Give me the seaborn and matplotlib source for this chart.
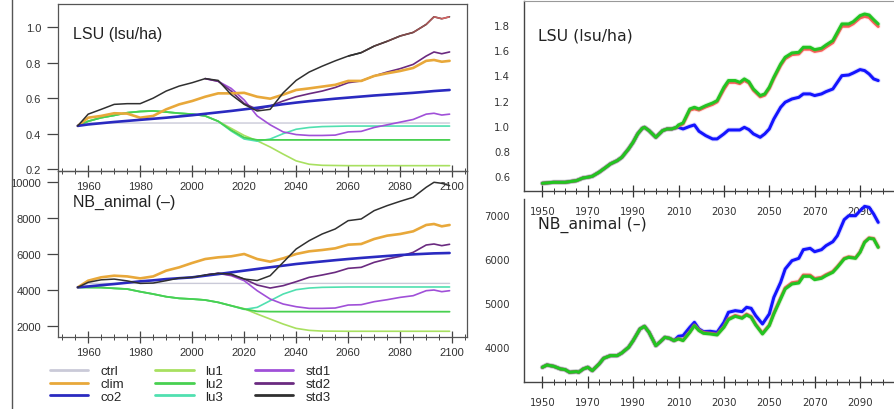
import matplotlib
matplotlib.use("Agg")
import numpy as np
import pandas as pd
import seaborn as sns
import matplotlib.pyplot as plt
import matplotlib.patheffects as pe
from matplotlib.lines import Line2D
from matplotlib.collections import LineCollection
from matplotlib.ticker import MultipleLocator, FormatStrFormatter

sns.set_theme(style="white")
plt.rcParams["font.family"] = ["Liberation Sans", "DejaVu Sans"]

# ---------------- data: left panels ----------------
yrs_a = [1956, 1960, 1965, 1970, 1975, 1980, 1985, 1990, 1995, 2000, 2005, 2010, 2015, 2020, 2025,
         2030, 2035, 2040, 2045, 2050, 2055, 2060, 2065, 2070, 2075, 2080, 2085, 2090, 2093, 2096, 2099]
ctrl_years = [1956, 1960, 2099]
ctrl_lsu = [0.444, 0.46, 0.46]
ctrl_nb = [4140, 4360, 4360]

clim_lsu = [0.444, 0.49, 0.50, 0.515, 0.513, 0.49, 0.50, 0.537, 0.565, 0.584, 0.608, 0.627, 0.627, 0.63, 0.608,
            0.597, 0.62, 0.646, 0.655, 0.665, 0.675, 0.697, 0.697, 0.725, 0.74, 0.753, 0.77, 0.81, 0.815, 0.805, 0.81]
co2_lsu = [0.444, 0.452, 0.459, 0.466, 0.472, 0.478, 0.484, 0.49, 0.497, 0.504, 0.512, 0.52, 0.528, 0.537, 0.546,
           0.556, 0.566, 0.575, 0.583, 0.59, 0.597, 0.603, 0.609, 0.615, 0.62, 0.625, 0.63, 0.636, 0.64, 0.643, 0.646]
std3_lsu = [0.444, 0.51, 0.537, 0.565, 0.569, 0.569, 0.60, 0.64, 0.668, 0.687, 0.71, 0.70, 0.62, 0.565, 0.528,
            0.537, 0.63, 0.70, 0.747, 0.78, 0.81, 0.837, 0.856, 0.893, 0.92, 0.95, 0.97, 1.015, 1.058, 1.047, 1.058]

std_years = [2005, 2010, 2015, 2020, 2025, 2030, 2035, 2040, 2045, 2050, 2055, 2060, 2065, 2070, 2075,
             2080, 2085, 2090, 2093, 2096, 2099]
std2_lsu = [0.71, 0.695, 0.64, 0.57, 0.537, 0.556, 0.584, 0.608, 0.625, 0.64, 0.66, 0.687, 0.697, 0.725, 0.747,
            0.766, 0.79, 0.837, 0.86, 0.85, 0.86]
std1_lsu = [0.71, 0.695, 0.655, 0.59, 0.50, 0.45, 0.41, 0.395, 0.39, 0.39, 0.392, 0.41, 0.413, 0.435, 0.45,
            0.465, 0.48, 0.51, 0.515, 0.505, 0.51]

lu_early_years = [1956, 1960, 1965, 1970, 1975, 1980, 1985, 1990, 1995, 2000, 2005, 2010]
lu_early_lsu = [0.444, 0.47, 0.49, 0.503, 0.518, 0.525, 0.528, 0.522, 0.515, 0.51, 0.50, 0.47]
lu1_tail_years = [2015, 2020, 2025, 2030, 2035, 2040, 2045, 2050, 2060, 2099]
lu1_tail_lsu = [0.43, 0.39, 0.36, 0.325, 0.285, 0.247, 0.228, 0.222, 0.22, 0.22]
lu2_tail_years = [2015, 2020, 2025, 2030, 2099]
lu2_tail_lsu = [0.42, 0.378, 0.365, 0.365, 0.365]
lu3_tail_years = [2015, 2020, 2025, 2030, 2035, 2040, 2045, 2050, 2060, 2099]
lu3_tail_lsu = [0.415, 0.37, 0.358, 0.37, 0.40, 0.425, 0.435, 0.44, 0.443, 0.443]

clim_nb = [4140, 4512, 4700, 4790, 4750, 4640, 4750, 5070, 5256, 5500, 5720, 5814, 5870, 6000, 5720,
           5572, 5758, 6000, 6150, 6223, 6316, 6520, 6558, 6837, 7023, 7116, 7265, 7619, 7674, 7544, 7619]
co2_nb = [4140, 4190, 4260, 4325, 4400, 4474, 4530, 4600, 4650, 4698, 4790, 4880, 4975, 5070, 5165,
          5260, 5350, 5442, 5515, 5585, 5655, 5720, 5780, 5835, 5890, 5944, 5980, 6015, 6035, 6045, 6056]
std3_nb = [4140, 4420, 4560, 4600, 4500, 4360, 4380, 4512, 4660, 4698, 4828, 4920, 4884, 4605, 4520,
           4790, 5535, 6279, 6744, 7116, 7395, 7860, 7953, 8419, 8698, 8940, 9163, 9721, 10000, 9944, 9814]
std2_nb = [4828, 4920, 4828, 4605, 4270, 4102, 4233, 4456, 4698, 4828, 4977, 5200, 5256, 5535, 5720,
           5870, 6093, 6502, 6558, 6465, 6540]
std1_nb = [4828, 4920, 4790, 4512, 3953, 3488, 3209, 3060, 2967, 2967, 2986, 3153, 3172, 3340, 3451,
           3581, 3674, 3953, 3991, 3898, 3953]
lu_early_nb = [4140, 4135, 4130, 4084, 4046, 3898, 3767, 3619, 3526, 3488, 3433, 3302]
lu1_tail_nb = [3116, 2950, 2651, 2372, 2093, 1851, 1740, 1700, 1690, 1690]
lu2_tail_nb = [3116, 2930, 2800, 2785, 2781]
lu3_tail_nb = [3116, 2910, 3023, 3395, 3767, 4009, 4102, 4140, 4160, 4160]

# ---------------- data: right panels ----------------
rt_early_years = [1950, 1955, 1960, 1965, 1968, 1970, 1972, 1975, 1978, 1980, 1983, 1985, 1988, 1990, 1992,
                  1994, 1995, 1997, 2000, 2003, 2005, 2007]
rt_early_lsu = [0.544, 0.552, 0.552, 0.565, 0.587, 0.592, 0.60, 0.632, 0.671, 0.698, 0.724, 0.75, 0.817, 0.87,
                0.936, 0.98, 0.988, 0.962, 0.909, 0.962, 0.975, 0.975]
rt_tail_years = [2009, 2010, 2012, 2015, 2017, 2019, 2022, 2025, 2027, 2030, 2032, 2035, 2037, 2039, 2041, 2043,
                 2046, 2048, 2050, 2052, 2055, 2057, 2060, 2063, 2065, 2068, 2070, 2073, 2075, 2078, 2080, 2082,
                 2085, 2087, 2090, 2092, 2094, 2096, 2098]
green_lsu = [0.988, 1.007, 1.023, 1.134, 1.147, 1.134, 1.16, 1.181, 1.2, 1.306, 1.359, 1.359, 1.345, 1.372, 1.35,
             1.292, 1.24, 1.253, 1.306, 1.385, 1.49, 1.544, 1.578, 1.583, 1.623, 1.623, 1.604, 1.615, 1.641,
             1.676, 1.742, 1.808, 1.808, 1.826, 1.874, 1.887, 1.879, 1.842, 1.808]
red_lsu = [0.985, 1.0, 1.015, 1.125, 1.135, 1.125, 1.15, 1.17, 1.19, 1.29, 1.345, 1.345, 1.335, 1.36, 1.34,
           1.282, 1.23, 1.243, 1.296, 1.375, 1.478, 1.532, 1.565, 1.57, 1.608, 1.608, 1.59, 1.6, 1.625,
           1.66, 1.725, 1.79, 1.79, 1.81, 1.856, 1.868, 1.86, 1.822, 1.788]
blue_lsu = [0.985, 0.988, 0.975, 0.996, 1.007, 0.957, 0.922, 0.896, 0.896, 0.936, 0.967, 0.967, 0.967, 0.988,
            0.97, 0.936, 0.909, 0.936, 0.975, 1.054, 1.147, 1.187, 1.213, 1.226, 1.253, 1.253, 1.24, 1.253,
            1.271, 1.292, 1.345, 1.398, 1.403, 1.419, 1.446, 1.438, 1.411, 1.372, 1.359]

rb_early_years = [1950, 1952, 1955, 1958, 1960, 1962, 1965, 1966, 1968, 1970, 1972, 1975, 1977, 1980, 1983,
                  1985, 1988, 1990, 1993, 1995, 1997, 2000, 2002, 2004, 2006, 2008]
rb_early_nb = [3548, 3600, 3570, 3510, 3495, 3435, 3450, 3435, 3510, 3548, 3472, 3623, 3751, 3812, 3812,
               3872, 4000, 4151, 4415, 4475, 4339, 4038, 4128, 4226, 4204, 4151]
rb_tail_years = [2010, 2012, 2015, 2017, 2019, 2021, 2024, 2027, 2030, 2032, 2035, 2038, 2040, 2042, 2044,
                 2047, 2050, 2052, 2055, 2057, 2060, 2063, 2065, 2068, 2070, 2073, 2075, 2078, 2080, 2083,
                 2085, 2088, 2090, 2092, 2094, 2096, 2098]
green_nb = [4189, 4151, 4339, 4490, 4377, 4317, 4302, 4279, 4453, 4626, 4701, 4656, 4731, 4678, 4505,
            4302, 4490, 4754, 5093, 5319, 5432, 5455, 5606, 5606, 5530, 5560, 5621, 5696, 5809, 5997,
            6035, 6013, 6148, 6374, 6465, 6450, 6261]
red_nb = [4195, 4160, 4350, 4500, 4390, 4330, 4315, 4292, 4466, 4645, 4720, 4675, 4750, 4697, 4522,
          4318, 4505, 4775, 5118, 5345, 5460, 5485, 5635, 5632, 5555, 5583, 5643, 5716, 5826, 6012,
          6048, 6025, 6160, 6385, 6476, 6460, 6272]
blue_nb = [4249, 4264, 4453, 4565, 4415, 4354, 4362, 4339, 4565, 4792, 4829, 4807, 4905, 4882, 4716,
           4528, 4754, 5130, 5470, 5771, 5960, 6013, 6209, 6239, 6163, 6209, 6299, 6389, 6525, 6887,
           6977, 6977, 7090, 7188, 7166, 7015, 6827]

legend_labels = ["ctrl", "clim", "co2", "lu1", "lu2", "lu3", "std1", "std2", "std3"]

# ---------------- styles ----------------
COL = {"ctrl": "#cacad8", "clim": "#e8a83a", "co2": "#2a2ac0", "lu1": "#a8e060", "lu2": "#48d050",
       "lu3": "#50e0b0", "std1": "#a050d8", "std2": "#6a2a80", "std3": "#303030"}
LW = {"ctrl": 1.0, "clim": 1.9, "co2": 1.9, "lu1": 1.2, "lu2": 1.3, "lu3": 1.2, "std1": 1.2, "std2": 1.2,
      "std3": 1.1}
R_RED, R_GREEN, R_BLUE = "#ff5a5a", "#22c422", "#1414ff"

W, H = 895, 410
fig = plt.figure(figsize=(W / 100, H / 100), dpi=100)
fig.patch.set_facecolor("white")


def add_ax(x0, y0, x1, y1):
    a = fig.add_axes([x0 / W, 1 - y1 / H, (x1 - x0) / W, (y1 - y0) / H])
    a.patch.set_visible(False)
    return a


axTL = add_ax(58, 5, 467, 172)
axBL = add_ax(58, 172, 467, 338)
axTR = add_ax(524, 2, 895, 192)
axBR = add_ax(524, 200, 895, 383)


def line(ax, x, y, color, lw, effects=None, z=2):
    sns.lineplot(x=list(x), y=list(y), ax=ax, color=color, linewidth=lw, legend=False,
                 estimator=None, sort=False, zorder=z)
    if effects is not None:
        ax.lines[-1].set_path_effects(effects)


def left_panel(ax, ctrl, clim, co2, std1, std2, std3, lu_early, lu1t, lu2t, lu3t):
    line(ax, ctrl_years, ctrl, COL["ctrl"], LW["ctrl"])
    line(ax, lu_early_years + lu1_tail_years, lu_early + lu1t, COL["lu1"], LW["lu1"])
    line(ax, lu_early_years + lu3_tail_years, lu_early + lu3t, COL["lu3"], LW["lu3"])
    line(ax, lu_early_years + lu2_tail_years, lu_early + lu2t, COL["lu2"], LW["lu2"])
    line(ax, std_years, std1, COL["std1"], LW["std1"])
    line(ax, std_years, std2, COL["std2"], LW["std2"])
    line(ax, yrs_a, clim, COL["clim"], LW["clim"])
    line(ax, yrs_a, co2, COL["co2"], LW["co2"])
    line(ax, yrs_a, std3, COL["std3"], LW["std3"])


left_panel(axTL, ctrl_lsu, clim_lsu, co2_lsu, std1_lsu, std2_lsu, std3_lsu,
           lu_early_lsu, lu1_tail_lsu, lu2_tail_lsu, lu3_tail_lsu)
left_panel(axBL, ctrl_nb, clim_nb, co2_nb, std1_nb, std2_nb, std3_nb,
           lu_early_nb, lu1_tail_nb, lu2_tail_nb, lu3_tail_nb)

# std3 tail in the LSU panel fades from black to red
ya = np.array(yrs_a, dtype=float)
va = np.array(std3_lsu)
m = ya >= 2060
pts = np.column_stack([ya[m], va[m]])
segs = np.stack([pts[:-1], pts[1:]], axis=1)
tcol = np.linspace(0, 1, len(segs))[:, None]
c0 = np.array(matplotlib.colors.to_rgb("#303030"))
c1 = np.array(matplotlib.colors.to_rgb("#d86464"))
axTL.add_collection(LineCollection(segs, colors=c0 * (1 - tcol) + c1 * tcol, linewidths=1.2, zorder=3))

for ax, lim in ((axTL, (0.19, 1.13)), (axBL, (1370, 10630))):
    ax.set_xlim(1948.4, 2105.7)
    ax.set_ylim(*lim)
    ax.set_xlabel("")
    ax.set_ylabel("")
    ax.xaxis.set_major_locator(MultipleLocator(20))
    ax.xaxis.set_minor_locator(MultipleLocator(5))
    ax.tick_params(axis="x", which="major", direction="inout", length=9, width=0.9, color="#444",
                   labelsize=8, pad=3, labelcolor="#333", bottom=True)
    ax.tick_params(axis="x", which="minor", direction="inout", length=4, width=0.7, color="#444",
                   bottom=True)
    ax.tick_params(axis="y", which="major", direction="out", length=8, width=0.9, color="#444",
                   labelsize=8, pad=4, labelcolor="#333", left=True)
    for s in ax.spines.values():
        s.set_visible(True)
        s.set_color("#555")
        s.set_linewidth(0.9)
    for t in ax.get_xticklabels() + ax.get_yticklabels():
        t.set_fontfamily(["Liberation Sans", "DejaVu Sans"])

axTL.yaxis.set_major_locator(MultipleLocator(0.2))
axTL.yaxis.set_major_formatter(FormatStrFormatter("%.1f"))
axBL.yaxis.set_major_locator(MultipleLocator(2000))
axBL.yaxis.set_major_formatter(FormatStrFormatter("%d"))

# ---------------- right panels ----------------
glow = lambda c: [pe.Stroke(linewidth=3.6, foreground=c, alpha=0.15), pe.Normal()]
for ax, ey, ev, ty, blue, red, green in (
        (axTR, rt_early_years, rt_early_lsu, rt_tail_years, blue_lsu, red_lsu, green_lsu),
        (axBR, rb_early_years, rb_early_nb, rb_tail_years, blue_nb, red_nb, green_nb)):
    line(ax, ey + ty, ev + blue, R_BLUE, 2.2, glow(R_BLUE))
    line(ax, ey + ty, ev + red, R_RED, 2.2, glow(R_RED))
    line(ax, ey + ty, ev + green, R_GREEN, 2.2, glow(R_GREEN))
    ax.set_xlim(1941.9, 2105.4)
    ax.set_xlabel("")
    ax.set_ylabel("")
    ax.set_xticks(np.arange(1950, 2091, 20))
    ax.set_xticks(np.arange(1950, 2101, 5), minor=True)
    ax.tick_params(axis="x", which="major", direction="inout", length=8, width=0.9, color="#333",
                   labelsize=7.3, pad=7, labelcolor="#333", bottom=True)
    ax.tick_params(axis="x", which="minor", direction="inout", length=4.5, width=0.7, color="#333",
                   bottom=True)
    ax.tick_params(axis="y", length=0, labelsize=7.3, pad=10, labelcolor="#333")
    for k, s in ax.spines.items():
        s.set_color("#444")
        s.set_linewidth(1.0)
    ax.spines["right"].set_visible(False)
    for t in ax.get_xticklabels() + ax.get_yticklabels():
        t.set_fontfamily(["DejaVu Sans"])

axTR.spines["top"].set_color("#999")
axTR.spines["top"].set_linewidth(0.8)
axBR.spines["top"].set_visible(False)
axTR.set_ylim(0.483, 1.99)
axTR.set_yticks([0.6, 0.8, 1.0, 1.2, 1.4, 1.6, 1.8])
axTR.yaxis.set_major_formatter(FormatStrFormatter("%.1f"))
axBR.set_ylim(3215, 7355)
axBR.set_yticks([4000, 5000, 6000, 7000])
axBR.yaxis.set_major_formatter(FormatStrFormatter("%d"))

# ---------------- titles ----------------
fig.text(73 / W, 1 - 35 / H, "LSU (lsu/ha)", ha="left", va="center", fontsize=11.5,
         family=["Liberation Sans"], color="#222")
fig.text(73 / W, 1 - 202 / H, "NB_animal (–)", ha="left", va="center", fontsize=11.5,
         family=["Liberation Sans"], color="#222")
fig.text(538 / W, 1 - 36 / H, "LSU (lsu/ha)", ha="left", va="center", fontsize=11.3,
         family=["DejaVu Sans"], color="#222")
fig.text(538 / W, 1 - 225 / H, "NB_animal (–)", ha="left", va="center", fontsize=11.3,
         family=["DejaVu Sans"], color="#222")

# outer frame line of the left figure
fig.add_artist(Line2D([12 / W, 12 / W], [0, 1], color="#555", lw=1.0, transform=fig.transFigure))

# ---------------- legend ----------------
handles = [Line2D([], [], color=COL[k], lw=2.0) for k in legend_labels]
fig.legend(handles, legend_labels, ncol=3, loc="upper left", bbox_to_anchor=(50 / W, 1 - 366 / H),
           frameon=False, handlelength=2.9, handletextpad=0.9, columnspacing=2.4, labelspacing=0.05,
           borderpad=0, borderaxespad=0, prop={"family": "Liberation Sans", "size": 9.5})

fig.savefig("out.png", dpi=100, facecolor="white")
